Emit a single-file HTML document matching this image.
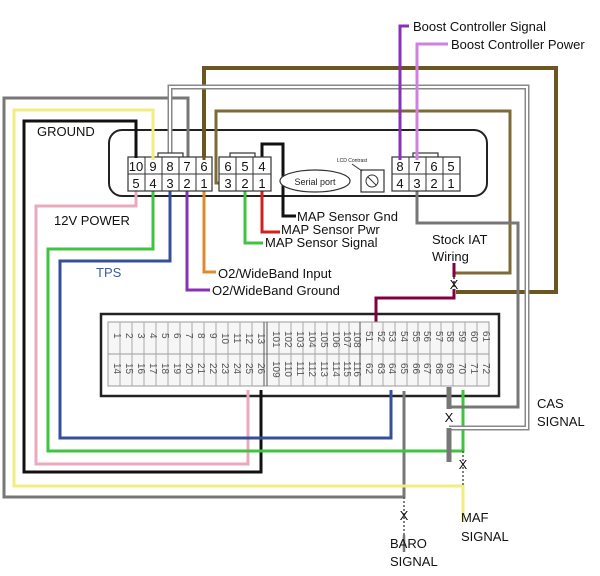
<!DOCTYPE html>
<html><head><meta charset="utf-8"><style>
html,body{margin:0;padding:0;background:#fff;}
svg{display:block;}
text{font-family:"Liberation Sans",Arial,sans-serif;}
</style></head><body>
<svg width="600" height="576" viewBox="0 0 600 576" xmlns="http://www.w3.org/2000/svg">
<rect width="600" height="576" fill="#fff"/>
<g fill="none" stroke-linejoin="miter">
<!-- module box -->
<rect x="109" y="130" width="378" height="66" rx="13" stroke="#222" stroke-width="2"/>
<!-- ECU box -->
<rect x="101" y="314" width="398" height="82" stroke="#222" stroke-width="2.5"/>
<!-- outer gray pin7 -> ECU 65 -->
<polyline points="188,158 188,98 4,98 4,497 404,497 404,391" stroke="#777" stroke-width="3"/>
<!-- yellow -->
<polyline points="153,158 153,110 14,110 14,486 463,486 463,522" stroke="#f0ee80" stroke-width="3"/>
<!-- black ground -->
<polyline points="136,158 136,121 24,121 24,472 261,472 261,390" stroke="#111" stroke-width="3"/>
<!-- pink -->
<polyline points="136,191 136,206 36,206 36,464 248,464 248,390" stroke="#e9aabc" stroke-width="3"/>
<!-- green -->
<polyline points="153,191 153,249 48,249 48,451 463,451 463,390" stroke="#3ec43e" stroke-width="3"/>
<!-- blue -->
<polyline points="170,191 170,261 60,261 60,438 391,438 391,390" stroke="#34509c" stroke-width="3"/>
<!-- purple O2 ground -->
<polyline points="187,191 187,290 210,290" stroke="#8a30b8" stroke-width="3"/>
<!-- orange O2 input -->
<polyline points="204,191 204,272 216,272" stroke="#e08a30" stroke-width="3"/>
<!-- dark brown pin6 -->
<polyline points="204,158 204,68 556,68 556,292 456,292" stroke="#6b5520" stroke-width="4"/>
<!-- olive mid pin3 -->
<polyline points="228,183 216,183 216,111 510,111 510,273 454,273" stroke="#7d6a35" stroke-width="3"/>
<!-- double gray pin8 -->
<polyline points="170,158 170,87 527,87 527,428 449,428" stroke="#888" stroke-width="5"/>
<polyline points="170,158 170,87 527,87 527,428 449,428" stroke="#fff" stroke-width="2"/>
<!-- gray right pin3 -->
<polyline points="417,191 417,223 518,223 518,407 449,407" stroke="#777" stroke-width="3"/>
<!-- thick gray segments -->
<line x1="449" y1="387" x2="449" y2="409" stroke="#777" stroke-width="5"/>
<line x1="449" y1="428" x2="449" y2="462" stroke="#777" stroke-width="5"/>
<!-- MAP wires -->
<polyline points="262,158 262,144 283,144 283,216 296,216" stroke="#111" stroke-width="3"/>
<polyline points="262,191 262,232 280,232" stroke="#d02020" stroke-width="3"/>
<polyline points="245,191 245,243 263,243" stroke="#3ec43e" stroke-width="3"/>
<!-- boost -->
<polyline points="400,158 400,26 409,26" stroke="#8a30b8" stroke-width="3"/>
<polyline points="417,158 417,44 448,44" stroke="#d080e0" stroke-width="3"/>
<!-- IAT maroon -->
<line x1="454" y1="263" x2="454" y2="277" stroke="#800040" stroke-width="3"/>
<polyline points="454,289 454,298 376,298 376,330" stroke="#800040" stroke-width="3"/>
<line x1="454" y1="277" x2="454" y2="290" stroke="#333" stroke-width="1.5" stroke-dasharray="2,2"/>
<!-- dotted baro / maf -->
<line x1="404" y1="497" x2="404" y2="535" stroke="#555" stroke-width="1.5" stroke-dasharray="2,2"/>
<line x1="404" y1="535" x2="404" y2="552" stroke="#777" stroke-width="2.5"/>
<line x1="463" y1="451" x2="463" y2="486" stroke="#555" stroke-width="1.5" stroke-dasharray="2,2"/>
</g>
<!-- connectors -->
<g fill="#fff" stroke="#333" stroke-width="1.2">
<rect x="158" y="153" width="25" height="5"/>
<rect x="128" y="157" width="84" height="34"/>
<rect x="230" y="153" width="25" height="5"/>
<rect x="219" y="157" width="52" height="34"/>
<rect x="413" y="153" width="25" height="5"/>
<rect x="392" y="157" width="68" height="34"/>
<ellipse cx="315" cy="181" rx="35" ry="11"/>
<rect x="361" y="170" width="23" height="22"/>
</g>
<g stroke="#333" stroke-width="1">
<line x1="128" y1="174" x2="212" y2="174"/><line x1="219" y1="174" x2="271" y2="174"/><line x1="392" y1="174" x2="460" y2="174"/>
<line x1="145" y1="157" x2="145" y2="191"/><line x1="162" y1="157" x2="162" y2="191"/><line x1="179" y1="157" x2="179" y2="191"/><line x1="196" y1="157" x2="196" y2="191"/>
<line x1="236" y1="157" x2="236" y2="191"/><line x1="253" y1="157" x2="253" y2="191"/>
<line x1="409" y1="157" x2="409" y2="191"/><line x1="426" y1="157" x2="426" y2="191"/><line x1="443" y1="157" x2="443" y2="191"/>
<circle cx="372" cy="181" r="6" fill="none"/><line x1="368" y1="177" x2="376" y2="185"/>
<line x1="352" y1="164" x2="362" y2="171"/>
</g>
<!-- re-draw wire stubs over connector -->
<g fill="none" stroke-width="3">
<line x1="136" y1="150" x2="136" y2="158" stroke="#111"/>
<line x1="153" y1="150" x2="153" y2="160" stroke="#f0ee80"/>
<line x1="204" y1="150" x2="204" y2="160" stroke="#6b5520"/>
<line x1="400" y1="150" x2="400" y2="160" stroke="#8a30b8"/>
<line x1="417" y1="150" x2="417" y2="160" stroke="#d080e0"/>
</g>
<g font-size="13" fill="#111" text-anchor="middle">
<text x="136" y="171">10</text><text x="153" y="171">9</text><text x="170" y="171">8</text><text x="187" y="171">7</text><text x="204" y="171">6</text>
<text x="136" y="188">5</text><text x="153" y="188">4</text><text x="170" y="188">3</text><text x="187" y="188">2</text><text x="204" y="188">1</text>
<text x="228" y="171">6</text><text x="245" y="171">5</text><text x="262" y="171">4</text>
<text x="228" y="188">3</text><text x="245" y="188">2</text><text x="262" y="188">1</text>
<text x="400" y="171">8</text><text x="417" y="171">7</text><text x="434" y="171">6</text><text x="451" y="171">5</text>
<text x="400" y="188">4</text><text x="417" y="188">3</text><text x="434" y="188">2</text><text x="451" y="188">1</text>
</g>
<text x="315" y="185" font-size="9" text-anchor="middle" fill="#222">Serial port</text>
<text x="352" y="162" font-size="5" text-anchor="middle" fill="#222">LCD Contrast</text>
<!-- ECU pins -->
<g id="ecu">
<rect x="108" y="322" width="381" height="64" fill="#f6f6f6" stroke="#999" stroke-width="1"/>
<line x1="108" y1="354" x2="489" y2="354" stroke="#999"/>
<line x1="264" y1="322" x2="264" y2="386" stroke="#555" stroke-width="1"/>
<line x1="267" y1="322" x2="267" y2="386" stroke="#555" stroke-width="1"/>
<line x1="360" y1="322" x2="360" y2="386" stroke="#555" stroke-width="1"/>
<g stroke="#aaa" stroke-width="1">
<line x1="120" y1="322" x2="120" y2="386"/><line x1="132" y1="322" x2="132" y2="386"/><line x1="144" y1="322" x2="144" y2="386"/><line x1="156" y1="322" x2="156" y2="386"/><line x1="168" y1="322" x2="168" y2="386"/><line x1="180" y1="322" x2="180" y2="386"/><line x1="192" y1="322" x2="192" y2="386"/><line x1="204" y1="322" x2="204" y2="386"/><line x1="216" y1="322" x2="216" y2="386"/><line x1="228" y1="322" x2="228" y2="386"/><line x1="240" y1="322" x2="240" y2="386"/><line x1="252" y1="322" x2="252" y2="386"/>
<line x1="279" y1="322" x2="279" y2="386"/><line x1="291" y1="322" x2="291" y2="386"/><line x1="303" y1="322" x2="303" y2="386"/><line x1="315" y1="322" x2="315" y2="386"/><line x1="327" y1="322" x2="327" y2="386"/><line x1="339" y1="322" x2="339" y2="386"/><line x1="349" y1="322" x2="349" y2="386"/>
<line x1="372" y1="322" x2="372" y2="386"/><line x1="383" y1="322" x2="383" y2="386"/><line x1="395" y1="322" x2="395" y2="386"/><line x1="407" y1="322" x2="407" y2="386"/><line x1="418" y1="322" x2="418" y2="386"/><line x1="430" y1="322" x2="430" y2="386"/><line x1="441" y1="322" x2="441" y2="386"/><line x1="453" y1="322" x2="453" y2="386"/><line x1="465" y1="322" x2="465" y2="386"/><line x1="477" y1="322" x2="477" y2="386"/>
</g>
<g fill="#555" font-size="10" style="writing-mode:vertical-rl;text-orientation:sideways">
<text x="114" y="333">1</text><text x="126" y="333">2</text><text x="138" y="333">3</text><text x="150" y="333">4</text><text x="162" y="333">5</text><text x="174" y="333">6</text><text x="186" y="333">7</text><text x="198" y="333">8</text><text x="210" y="333">9</text><text x="222" y="333">10</text><text x="234" y="333">11</text><text x="246" y="333">12</text><text x="258" y="333">13</text>
<text x="273" y="331">101</text><text x="285" y="331">102</text><text x="297" y="331">103</text><text x="309" y="331">104</text><text x="321" y="331">105</text><text x="333" y="331">106</text><text x="344" y="331">107</text><text x="354" y="331">108</text>
<text x="366" y="331">51</text><text x="378" y="331">52</text><text x="389" y="331">53</text><text x="401" y="331">54</text><text x="413" y="331">55</text><text x="424" y="331">56</text><text x="436" y="331">57</text><text x="447" y="331">58</text><text x="459" y="331">59</text><text x="471" y="331">60</text><text x="483" y="331">61</text>
<text x="114" y="363">14</text><text x="126" y="363">15</text><text x="138" y="363">16</text><text x="150" y="363">17</text><text x="162" y="363">18</text><text x="174" y="363">19</text><text x="186" y="363">20</text><text x="198" y="363">21</text><text x="210" y="363">22</text><text x="222" y="363">23</text><text x="234" y="363">24</text><text x="246" y="363">25</text><text x="258" y="363">26</text>
<text x="273" y="361">109</text><text x="285" y="361">110</text><text x="297" y="361">111</text><text x="309" y="361">112</text><text x="321" y="361">113</text><text x="333" y="361">114</text><text x="344" y="361">115</text><text x="354" y="361">116</text>
<text x="366" y="363">62</text><text x="378" y="363">63</text><text x="389" y="363">64</text><text x="401" y="363">65</text><text x="413" y="363">66</text><text x="424" y="363">67</text><text x="436" y="363">68</text><text x="447" y="363">69</text><text x="459" y="363">70</text><text x="471" y="363">71</text><text x="483" y="363">72</text>
</g>
</g>
<!-- X marks -->
<g font-size="13" fill="#111" text-anchor="middle">
<text x="454" y="289">X</text>
<text x="449" y="422">X</text>
<text x="463" y="469">X</text>
<text x="404" y="520">X</text>
</g>
<!-- labels -->
<g font-size="13" fill="#111">
<text x="37" y="136">GROUND</text>
<text x="54" y="225">12V POWER</text>
<text x="96" y="277" fill="#3d5aa8">TPS</text>
<text x="218" y="278">O2/WideBand Input</text>
<text x="212" y="295">O2/WideBand Ground</text>
<text x="297" y="221">MAP Sensor Gnd</text>
<text x="281" y="234">MAP Sensor Pwr</text>
<text x="265" y="247">MAP Sensor Signal</text>
<text x="413" y="31">Boost Controller Signal</text>
<text x="451" y="49">Boost Controller Power</text>
<text x="432" y="244">Stock IAT</text>
<text x="432" y="261">Wiring</text>
<text x="537" y="408">CAS</text>
<text x="537" y="426">SIGNAL</text>
<text x="461" y="522">MAF</text>
<text x="461" y="541">SIGNAL</text>
<text x="390" y="548">BARO</text>
<text x="390" y="566">SIGNAL</text>
</g>
</svg>
</body></html>
